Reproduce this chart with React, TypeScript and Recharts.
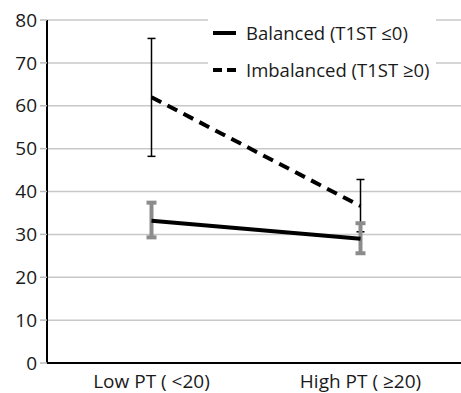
import React from "react";
import { LineChart, Line, XAxis, YAxis, CartesianGrid, ErrorBar } from "recharts";

const categories = ["Low PT ( <20)", "High PT ( \u226520)"];
const balanced = [33.2, 29.0];
const balancedErr: [number, number][] = [[3.9, 4.2], [3.4, 3.6]];
const imbalanced = [62.0, 36.6];
const imbalancedErr: [number, number][] = [[13.8, 13.7], [6.0, 6.2]];
const yTicks = [0, 10, 20, 30, 40, 50, 60, 70, 80];
const bandEdges = [0, 1, 2];
const seriesNames = ["Balanced (T1ST \u22640)", "Imbalanced (T1ST \u22650)"];

const data = categories.map((c, i) => ({
  cat: c,
  bal: balanced[i],
  balErr: balancedErr[i],
  imb: imbalanced[i],
  imbErr: imbalancedErr[i],
}));

const FONT = "'Open Sans', sans-serif";

const LegendBox = () => (
  <div
    style={{
      position: "absolute",
      left: 208,
      top: 14,
      fontFamily: FONT,
      fontSize: 18.5,
      color: "#1a1a1a",
      background: "#fff",
      paddingRight: 6,
      paddingLeft: 5,
    }}
  >
    {seriesNames.map((n, i) => (
      <div key={n} style={{ display: "flex", alignItems: "center", height: 37 }}>
        <svg width={33} height={10}>
          <line
            x1={0}
            x2={23}
            y1={5}
            y2={5}
            stroke="#000"
            strokeWidth={4}
            strokeDasharray={i === 1 ? "9 5" : undefined}
          />
        </svg>
        <span>{n}</span>
      </div>
    ))}
  </div>
);

export default function App() {
  return (
    <div style={{ position: "absolute", left: 0, top: 0, width: 461, height: 393, overflow: "hidden", background: "#fff" }}>
      <LineChart width={470} height={393} data={data} margin={{ top: 20, right: 5, bottom: 0, left: 0 }}>
        <CartesianGrid horizontal vertical={false} stroke="#c8c8c8" strokeWidth={1.5} />
        <XAxis
          xAxisId="edges"
          type="number"
          domain={[0, 2]}
          ticks={bandEdges}
          height={0}
          axisLine={false}
          tick={false}
          tickLine={{ stroke: "#bbb", strokeWidth: 1.5 }}
          tickSize={6}
        />
        <XAxis
          dataKey="cat"
          scale="band"
          height={30}
          axisLine={{ stroke: "#000", strokeWidth: 2 }}
          tickLine={false}
          tick={{ fill: "#1a1a1a", fontSize: 19, fontFamily: FONT }}
          tickMargin={6}
          interval={0}
        />
        <YAxis
          domain={[0, 80]}
          ticks={yTicks}
          width={47}
          axisLine={{ stroke: "#000", strokeWidth: 2 }}
          tickLine={{ stroke: "#bbb", strokeWidth: 1.5 }}
          tickSize={7}
          tickMargin={3}
          tick={{ fill: "#1a1a1a", fontSize: 19, fontFamily: FONT }}
          interval={0}
        />
        <Line
          dataKey="imb"
          stroke="#000"
          strokeWidth={4}
          strokeDasharray="11 7"
          dot={false}
          isAnimationActive={false}
        >
          <ErrorBar dataKey="imbErr" stroke="#000" strokeWidth={1.5} width={4} />
        </Line>
        <Line dataKey="bal" stroke="#000" strokeWidth={4} dot={false} isAnimationActive={false}>
          <ErrorBar dataKey="balErr" stroke="#8c8c8c" strokeWidth={4} width={5} />
        </Line>
      </LineChart>
      <LegendBox />
    </div>
  );
}
